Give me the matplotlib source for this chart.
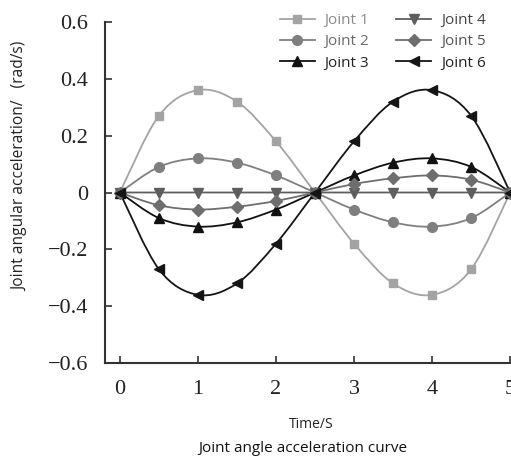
import numpy as np
import matplotlib
matplotlib.use("Agg")
import matplotlib.pyplot as plt
from matplotlib.path import Path
from matplotlib.patches import PathPatch
from matplotlib.lines import Line2D

t = [0, 0.5, 1, 1.5, 2, 2.5, 3, 3.5, 4, 4.5, 5]
joint1 = [0, 0.27, 0.36, 0.32, 0.18, 0, -0.18, -0.32, -0.36, -0.27, 0]
joint2 = [0, 0.09, 0.12, 0.105, 0.06, 0, -0.06, -0.105, -0.12, -0.09, 0]
joint3 = [0, -0.09, -0.12, -0.105, -0.06, 0, 0.06, 0.105, 0.12, 0.09, 0]
joint4 = [0, 0, 0, 0, 0, 0, 0, 0, 0, 0, 0]
joint5 = [0, -0.045, -0.06, -0.05, -0.03, 0, 0.03, 0.05, 0.06, 0.045, 0]
joint6 = [0, -0.27, -0.36, -0.32, -0.18, 0, 0.18, 0.32, 0.36, 0.27, 0]
labels = ["Joint 1", "Joint 2", "Joint 3", "Joint 4", "Joint 5", "Joint 6"]
series = [joint1, joint2, joint3, joint4, joint5, joint6]
colors = ["#a3a3a3", "#7f7f7f", "#111111", "#5e5e5e", "#6e6e6e", "#151515"]
markers = ["s", "o", "^", "v", "D", "<"]
msizes = [6, 7, 7, 7, 6, 7]

def smooth_path(x, y):
    x = np.asarray(x, float); y = np.asarray(y, float)
    verts = [(x[0], y[0])]
    codes = [Path.MOVETO]
    n = len(x)
    for i in range(n - 1):
        p0 = np.array([x[max(i - 1, 0)], y[max(i - 1, 0)]])
        p1 = np.array([x[i], y[i]])
        p2 = np.array([x[i + 1], y[i + 1]])
        p3 = np.array([x[min(i + 2, n - 1)], y[min(i + 2, n - 1)]])
        c1 = p1 + (p2 - p0) / 6.0
        c2 = p2 - (p3 - p1) / 6.0
        verts += [tuple(c1), tuple(c2), tuple(p2)]
        codes += [Path.CURVE4] * 3
    return Path(verts, codes)

fig = plt.figure(figsize=(5.11, 4.57), dpi=100)
ax = fig.add_axes([105 / 511, 94 / 457, 406 / 511, 341 / 457])

handles = []
for ys, lab, c, m, ms in zip(series, labels, colors, markers, msizes):
    ax.add_patch(PathPatch(smooth_path(t, ys), facecolor="none", edgecolor=c, lw=1.3, clip_on=False))
    ax.plot(t, ys, linestyle="none", marker=m, color=c, markersize=ms, clip_on=False, zorder=3)
    handles.append(Line2D([], [], color=c, marker=m, markersize=ms, lw=1.3))

ax.set_xlim(-0.19, 5.01)
ax.set_ylim(-0.6, 0.6)
ax.set_xticks([0, 1, 2, 3, 4, 5])
ax.set_yticks([-0.6, -0.4, -0.2, 0, 0.2, 0.4, 0.6])
ax.set_xticklabels(["0", "1", "2", "3", "4", "5"])
ax.set_yticklabels(["\u22120.6", "\u22120.4", "\u22120.2", "0", "0.2", "0.4", "0.6"])
for lab in ax.get_xticklabels() + ax.get_yticklabels():
    lab.set_fontfamily("Liberation Serif")
    lab.set_fontsize(16)
    lab.set_color("#222222")
ax.tick_params(direction="in", length=5, width=1.2, color="#333333")
ax.tick_params(axis="y", pad=12)
ax.tick_params(axis="x", pad=12)
ax.spines["top"].set_visible(False)
ax.spines["right"].set_visible(False)
for s in ["left", "bottom"]:
    ax.spines[s].set_linewidth(1.5)
    ax.spines[s].set_color("#333333")

ax.set_ylabel("Joint angular acceleration/   (rad/s)", fontfamily="Open Sans", fontsize=11.2,
              color="#222222")
ax.yaxis.set_label_coords((28 - 105) / 406, 0.5 - (167 - (23 + 363) / 2) / 341)
ax.set_xlabel("Time/S", fontfamily="Open Sans", fontsize=10, color="#222222")
ax.xaxis.set_label_coords((311 - 105) / 406, -(417 - 363) / 341)
fig.text(303 / 511, 1 - 448 / 457, "Joint angle acceleration curve", ha="center", va="center",
         fontfamily="Open Sans", fontsize=11, color="#111111")

leg = fig.legend(handles, labels, ncol=2,
                 loc="upper right", bbox_to_anchor=(486 / 511, 1 - 13 / 457), frameon=False,
                 prop={"family": "Open Sans", "size": 11}, handlelength=2.3,
                 columnspacing=1.75, labelspacing=0.42, handletextpad=0.65,
                 borderpad=0, borderaxespad=0)
for txt, c in zip(leg.get_texts(), ["#8a8a8a", "#6a6a6a", "#222222", "#444444", "#555555", "#222222"]):
    txt.set_color(c)

fig.savefig("out.png", dpi=100)
